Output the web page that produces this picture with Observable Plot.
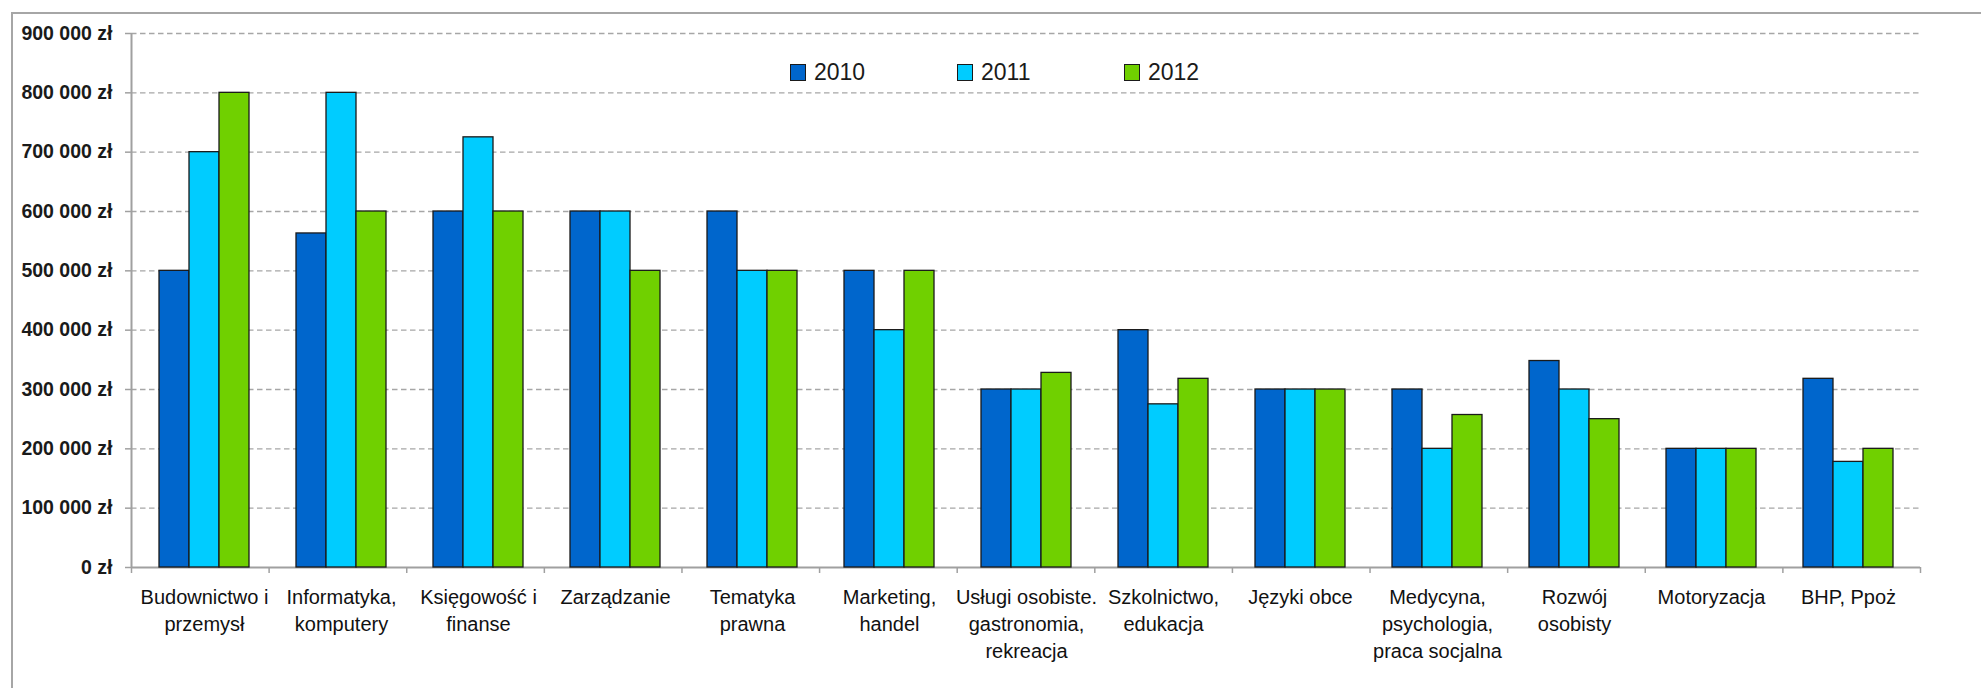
<!DOCTYPE html>
<html><head><meta charset="utf-8">
<script src="https://cdn.jsdelivr.net/npm/d3@7"></script>
<script src="https://cdn.jsdelivr.net/npm/@observablehq/plot@0.6"></script>
<style>
html,body{margin:0;padding:0;background:#fff;}
#wrap{position:relative;width:1981px;height:688px;overflow:hidden;font-family:"Liberation Sans",Arial,sans-serif;}
#frame{position:absolute;left:11px;top:12px;right:-10px;bottom:-10px;border-top:2px solid #a6a6a6;border-left:2px solid #a6a6a6;}
.layer{position:absolute;left:0;top:0;}
#legend{position:absolute;left:790px;top:58px;display:flex;height:28px;align-items:center;}
.item{display:flex;align-items:center;width:167px;font-size:23px;color:#1a1a1a;}
.sw{width:14px;height:15px;border:1.3px solid #1a1a1a;margin-right:8px;}
</style></head>
<body><div id="wrap"><div id="frame"></div><div id="under" class="layer"></div><div id="over" class="layer"></div><div id="legend"></div></div>
<script>
const categories = ["Budownictwo i przemysł","Informatyka, komputery","Księgowość i finanse","Zarządzanie","Tematyka prawna","Marketing, handel","Usługi osobiste. gastronomia, rekreacja","Szkolnictwo, edukacja","Języki obce","Medycyna, psychologia, praca socjalna","Rozwój osobisty","Motoryzacja","BHP, Ppoż"];
const categoryLabels = ["Budownictwo i\nprzemysł","Informatyka,\nkomputery","Księgowość i\nfinanse","Zarządzanie","Tematyka\nprawna","Marketing,\nhandel","Usługi osobiste.\ngastronomia,\nrekreacja","Szkolnictwo,\nedukacja","Języki obce","Medycyna,\npsychologia,\npraca socjalna","Rozwój\nosobisty","Motoryzacja","BHP, Ppoż"];
const years = ["2010","2011","2012"];
const values2010 = [500000,563000,600000,600000,600000,500000,300000,400000,300000,300000,348000,200000,318000];
const values2011 = [700000,800000,725000,600000,500000,400000,300000,275000,300000,200000,300000,200000,178000];
const values2012 = [800000,600000,600000,500000,500000,500000,328000,318000,300000,257000,250000,200000,200000];
const yTicks = [0,100000,200000,300000,400000,500000,600000,700000,800000,900000];
const colors = ["#0066cc","#00ccff","#70d000"];

const series = [values2010, values2011, values2012];
const data = [];
categories.forEach((c, i) => years.forEach((y, j) => data.push({category: c, year: y, value: series[j][i]})));

const W = 1981, H = 688;
const M = {marginLeft: 131, marginRight: 61, marginTop: 33, marginBottom: 121};
const font = "'Liberation Sans', Arial, sans-serif";
const fmt = d => d3.format(",")(d).replace(/,/g, " ") + " zł";
const boundaries = d3.range(categories.length + 1);

// underlay: grid, axes lines, y labels, category boundary ticks
const under = Plot.plot({
  width: W, height: H, ...M,
  style: {fontFamily: font, fontSize: "19px", color: "#1a1a1a", background: "transparent"},
  x: {type: "linear", domain: [0, categories.length], label: null},
  y: {domain: [0, 900000], label: null},
  marks: [
    Plot.ruleY(yTicks.filter(d => d > 0), {stroke: "#a6a6a6", strokeWidth: 1.3, strokeDasharray: "5.5,3.5"}),
    Plot.ruleY([0], {stroke: "#a0a0a0", strokeWidth: 2}),
    Plot.ruleX([0], {stroke: "#a0a0a0", strokeWidth: 2}),
    Plot.axisY({ticks: yTicks, tickFormat: fmt, tickSize: 6, tickPadding: 13, stroke: "#a0a0a0", strokeWidth: 1.5, fontWeight: "bold", fontSize: 19.5, label: null}),
    Plot.axisX({ticks: boundaries, tickFormat: () => "", tickSize: 6, stroke: "#a0a0a0", strokeWidth: 1.5, label: null})
  ]
});
document.getElementById("under").appendChild(under);

// overlay: grouped bars and category labels
const over = Plot.plot({
  width: W, height: H, ...M,
  style: {fontFamily: font, fontSize: "20px", color: "#111", background: "transparent"},
  fx: {domain: categories, paddingInner: 0.33, paddingOuter: 0.165, label: null},
  x: {domain: years, padding: 0, axis: null},
  y: {domain: [0, 900000], axis: null},
  color: {domain: years, range: colors},
  marks: [
    Plot.barY(data, {fx: "category", x: "year", y: "value", fill: "year", stroke: "#1a1a1a", strokeWidth: 1.3}),
    Plot.axisFx({anchor: "bottom", tickSize: 0, tickPadding: 18, lineHeight: 1.33, fontSize: 20, label: null,
      tickFormat: d => categoryLabels[categories.indexOf(d)]})
  ]
});
document.getElementById("over").appendChild(over);

// legend
const legend = d3.select("#legend");
years.forEach((y, i) => {
  const it = legend.append("div").attr("class", "item");
  it.append("div").attr("class", "sw").style("background", colors[i]);
  it.append("span").text(y);
});
</script>
</body></html>
